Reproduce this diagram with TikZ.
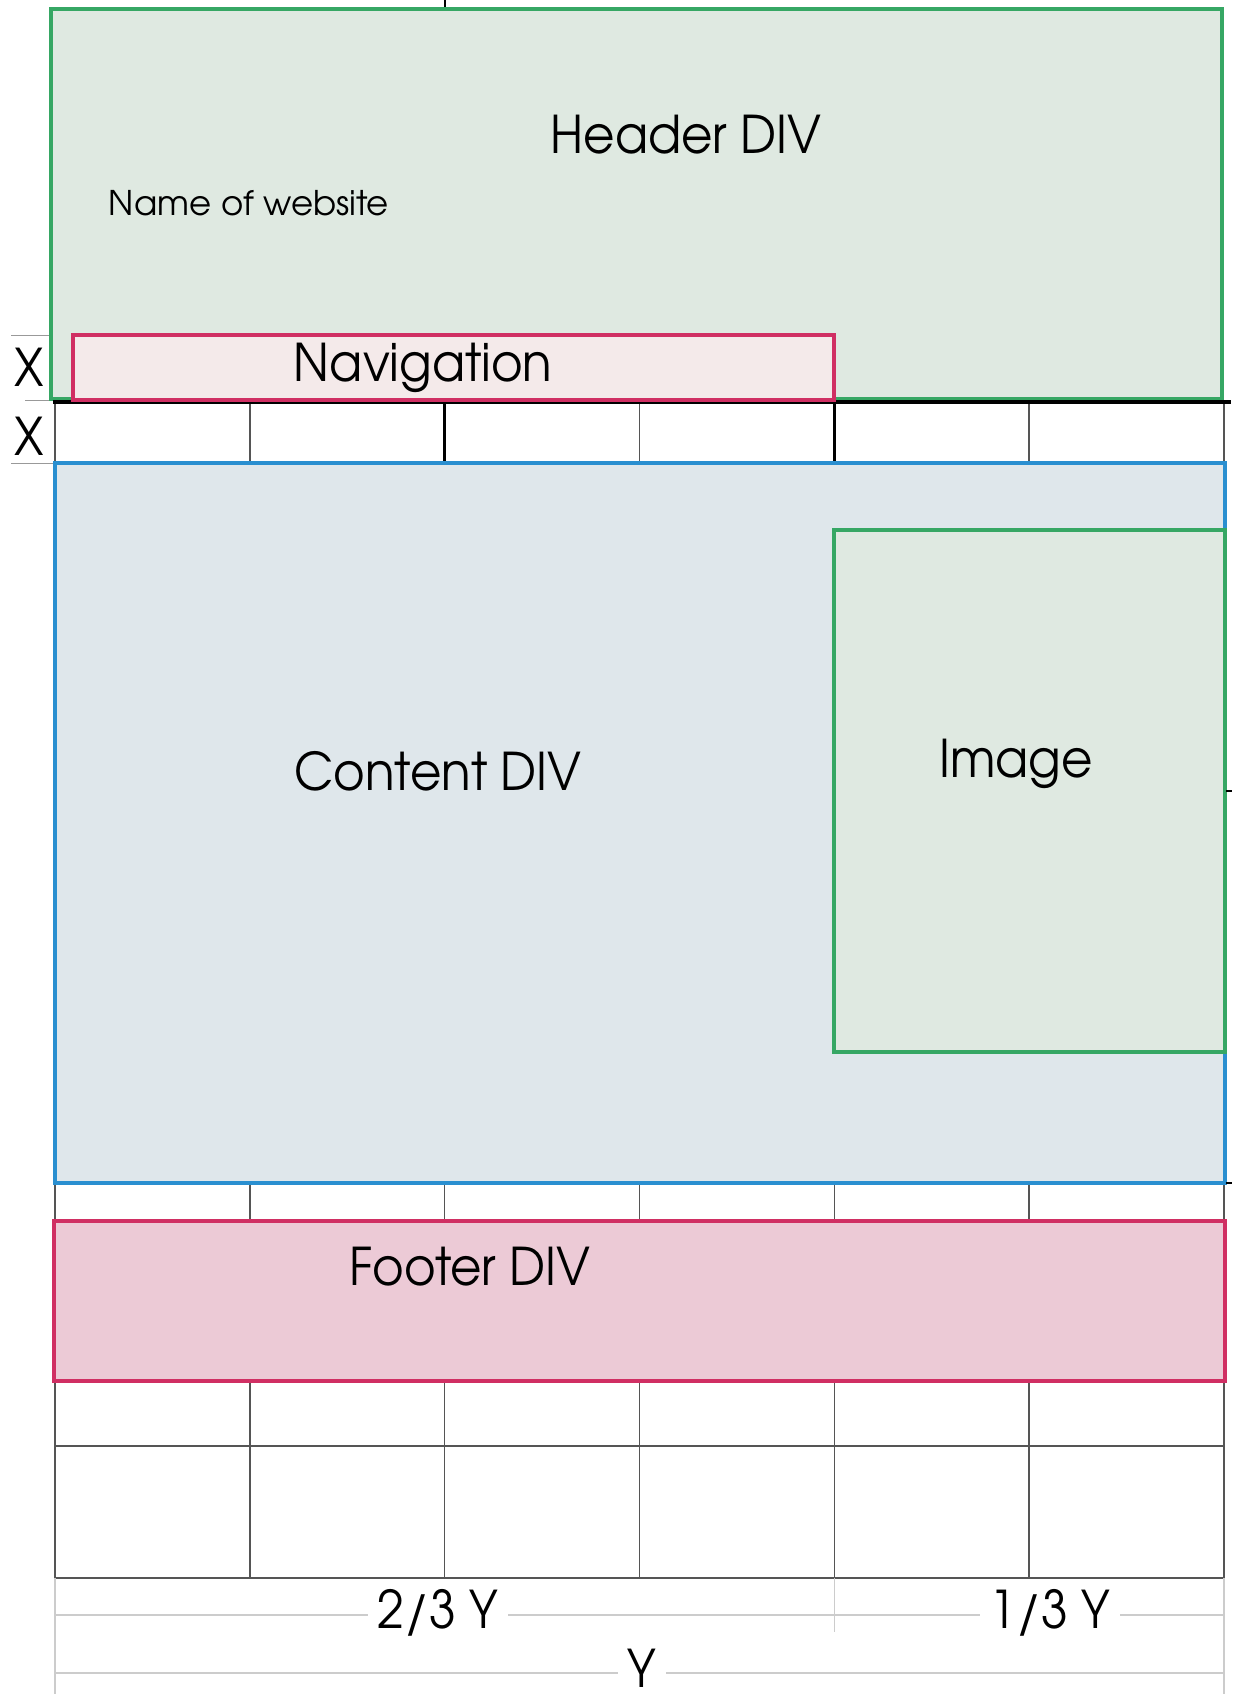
\documentclass[tikz,border=0pt]{standalone}
\usepackage{fontspec}
\setmainfont{TeX Gyre Adventor}
\newfontfamily\narrowfont[FakeStretch=0.93]{TeX Gyre Adventor}
\definecolor{hdrfill}{HTML}{DFE9E1}
\definecolor{grn}{HTML}{36A764}
\definecolor{navfill}{HTML}{F4EAEA}
\definecolor{pnk}{HTML}{D02F63}
\definecolor{cntfill}{HTML}{DFE7EB}
\definecolor{blu}{HTML}{2A8FD0}
\definecolor{ftrfill}{HTML}{ECCAD6}
\definecolor{gridc}{HTML}{555555}
\definecolor{dimc}{HTML}{CCCCCC}
\tikzset{
  gridline/.style={draw=gridc, line width=1.5pt},
  boldline/.style={draw=black, line width=3.5pt},
  dimline/.style={draw=dimc, line width=1.5pt},
  greenbox/.style={draw=grn, fill=hdrfill, line width=3.5pt},
  pinkbox/.style={draw=pnk, line width=3.5pt},
  bluebox/.style={draw=blu, fill=cntfill, line width=3.5pt},
  biglabel/.style={inner sep=0pt, font=\narrowfont\fontsize{52}{60}\selectfont},
  smalllabel/.style={inner sep=0pt, font=\fontsize{34}{40}\selectfont},
  dimlabel/.style={fill=white, inner xsep=10pt, inner ysep=0pt, font=\narrowfont\fontsize{52}{60}\selectfont}
}
\begin{document}
\begin{tikzpicture}[x=1pt,y=-1pt]
\useasboundingbox (0,0) rectangle (1232,1694);
\fill[white] (0,0) rectangle (1232,1694);
% top tick
\draw[boldline, line width=2pt] (444.7,0) -- (444.7,10);
% row between header and content
\draw[gridline] (55,400) -- (55,463);
\foreach \c in {249.8,639.5,1029.2,1224}{ \draw[gridline] (\c,400) -- (\c,463); }
\draw[boldline, line width=3pt] (444.7,400) -- (444.7,463);
\draw[boldline, line width=3pt] (834.3,400) -- (834.3,463);
% row between content and footer
\foreach \c in {55,249.8,444.7,639.5,834.3,1029.2,1224}{ \draw[gridline] (\c,1183) -- (\c,1221); }
% bottom grid
\foreach \c in {55,249.8,444.7,639.5,834.3,1029.2,1224}{ \draw[gridline] (\c,1381) -- (\c,1578); }
\draw[gridline] (55,1446) -- (1224,1446);
\draw[gridline] (55,1578) -- (1224,1578);
% left guide lines
\draw[dimline, draw=gridc!60, line width=1pt] (11,335) -- (51,335);
\draw[dimline, draw=gridc!60, line width=1pt] (25,400) -- (55,400);
\draw[dimline, draw=gridc!60, line width=1pt] (11,463) -- (55,463);
% header
\draw[greenbox] (51,9) rectangle (1222,399);
\node[biglabel] (hdr) at (686,135) {Header DIV};
\node[smalllabel] (name) at (249,203) {Name of website};
% bold line under header
\draw[boldline] (53,402) -- (1231,402);
% navigation
\draw[pinkbox, fill=navfill] (73,335) rectangle (834,400);
\node[biglabel] (nav) at (423,368) {Navigation};
% X labels
\node[biglabel] (x1) at (29,367) {X};
\node[biglabel] (x2) at (29,436) {X};
% content
\draw[bluebox] (55,463) rectangle (1225,1183);
\node[biglabel] (cnt) at (438,771) {Content DIV};
% image
\draw[greenbox] (834,530) rectangle (1225,1052);
\node[biglabel] (img) at (1016,764) {Image};
% right ticks
\draw[black, line width=2pt] (1226,791) -- (1232,791);
\draw[black, line width=2pt] (1226,1183) -- (1232,1183);
% footer
\draw[pinkbox, fill=ftrfill] (54,1221) rectangle (1225,1381);
\node[biglabel] (ftr) at (470,1267) {Footer DIV};
% dimension lines
\draw[dimline] (55,1578) -- (55,1694);
\draw[dimline] (1224,1578) -- (1224,1694);
\draw[dimline] (834.3,1578) -- (834.3,1632);
\draw[dimline] (55,1615) -- (834.3,1615);
\draw[dimline] (834.3,1615) -- (1224,1615);
\draw[dimline] (55,1673) -- (1224,1673);
\node[dimlabel] (d23) at (438,1613) {2/3 Y};
\node[dimlabel] (d13) at (1050,1613) {1/3 Y};
\node[dimlabel] (dy) at (642,1668) {Y};
\end{tikzpicture}
\end{document}
